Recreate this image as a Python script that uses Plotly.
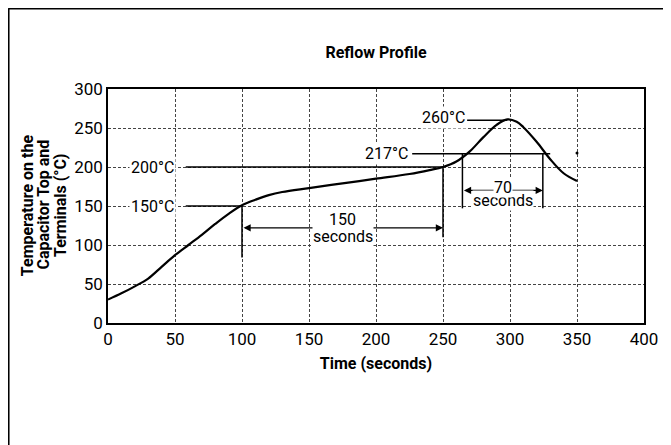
import plotly.graph_objects as go

# ---- data ----
time_s = [0, 10, 20, 30, 40, 50, 60, 70, 80, 90, 100, 110, 120, 130, 150, 175, 200,
          225, 240, 250, 260, 270, 280, 290, 298, 305, 310, 320, 330, 340, 350]
temp_c = [30, 38, 47, 57, 72, 87, 100, 113, 127, 140, 151, 158, 164, 168, 173, 179, 185,
          191, 196, 200, 207, 220, 238, 254, 261, 258, 251, 232, 210, 192, 182]

x_ticks = [0, 50, 100, 150, 200, 250, 300, 350, 400]
y_ticks = [0, 50, 100, 150, 200, 250, 300]

y_title_lines = ["Temperature on the", "Capacitor Top and", "Terminals (°C)"]

# reference levels (label, temperature, line start time, line end time, label time)
levels = [("150°C", 150, 58, 100, 33), ("200°C", 200, 58, 250, 33),
          ("217°C", 217, 227, 330, 208), ("260°C", 260, 268, 298, 250)]
# vertical markers (time, top temp, bottom temp)
verticals = [(100, 150, 84), (250, 200, 110), (264.5, 217, 147), (324.5, 217, 147)]
# spans (start, end, temp level of arrow, number label, number shift, word shift)
spans = [(100, 250, 122, "150", 8, -9), (264.5, 324.5, 170, "70", 3, -10)]
dot = (350, 218)

FONT = "Roboto, sans-serif"

fig = go.Figure()
fig.add_trace(go.Scatter(x=time_s, y=temp_c, mode="lines", line=dict(color="black", width=2.2, shape="spline"),
                         hoverinfo="skip", showlegend=False))

for lab, t, x0, x1, xl in levels:
    fig.add_trace(go.Scatter(x=[x0, x1], y=[t, t], mode="lines", line=dict(color="black", width=1.5),
                             showlegend=False, hoverinfo="skip"))
    ty = t + 4 if lab == "260°C" else t
    fig.add_annotation(x=xl, y=ty, text=lab, showarrow=False, bgcolor="white",
                       font=dict(size=16, color="black", family=FONT))

for xv, ytop, ybot in verticals:
    fig.add_trace(go.Scatter(x=[xv, xv], y=[ytop, ybot], mode="lines", line=dict(color="black", width=1.5),
                             showlegend=False, hoverinfo="skip"))

for x0, x1, ya, num, ns, ws in spans:
    fig.add_annotation(x=x1, y=ya, ax=x0, ay=ya, axref="x", ayref="y", xref="x", yref="y",
                       text="", showarrow=True, arrowhead=2, arrowside="end+start",
                       arrowsize=1.2, arrowwidth=1.2, arrowcolor="black")
    xm = (x0 + x1) / 2
    fig.add_annotation(x=xm, y=ya, text="seconds", showarrow=False, yshift=ws, bgcolor="white",
                       font=dict(size=16, color="black", family=FONT), borderpad=0)
    fig.add_annotation(x=xm, y=ya, text=num, showarrow=False, bgcolor="white", yshift=ns,
                       font=dict(size=16, color="black", family=FONT), borderpad=0)

fig.add_trace(go.Scatter(x=[dot[0]], y=[dot[1]], mode="markers", marker=dict(color="black", size=3),
                         showlegend=False, hoverinfo="skip"))

# y-axis title as three tightly spaced rotated lines
for i, line in enumerate(y_title_lines):
    fig.add_annotation(xref="paper", yref="paper", x=-0.151 + i * 0.0307, y=0.504, text=f"<b>{line}</b>",
                       textangle=-90, showarrow=False, xanchor="center", yanchor="middle",
                       font=dict(size=16, color="black", family=FONT))

# outer frame (left and top lines)
fig.add_shape(type="line", xref="paper", yref="paper", x0=-0.186, x1=1.2, y0=1.345, y1=1.345,
              line=dict(color="black", width=2.5))
fig.add_shape(type="line", xref="paper", yref="paper", x0=-0.186, x1=-0.186, y0=1.345, y1=-0.6,
              line=dict(color="black", width=2.5))

fig.update_layout(
    width=671, height=445,
    margin=dict(l=100, r=35, t=81, b=130),
    paper_bgcolor="white", plot_bgcolor="white",
    title=dict(text="<b>Reflow Profile</b>", x=0.5, xref="paper", y=0.901, yanchor="middle",
               font=dict(size=16, color="black", family=FONT)),
    font=dict(family=FONT, color="black"),
)
grid = dict(showgrid=True, gridcolor="#444", griddash="3px,2px", gridwidth=1, showline=True,
            linecolor="black", linewidth=1.5, mirror=True, zeroline=False, ticks="",
            tickfont=dict(size=17, family=FONT))
fig.update_xaxes(range=[0, 400], tickvals=x_ticks, **grid,
                 title=dict(text="<b>Time (seconds)</b>", font=dict(size=16, family=FONT), standoff=10))
fig.update_yaxes(range=[0, 300], tickvals=y_ticks, **grid)

fig.write_html("out.html")
